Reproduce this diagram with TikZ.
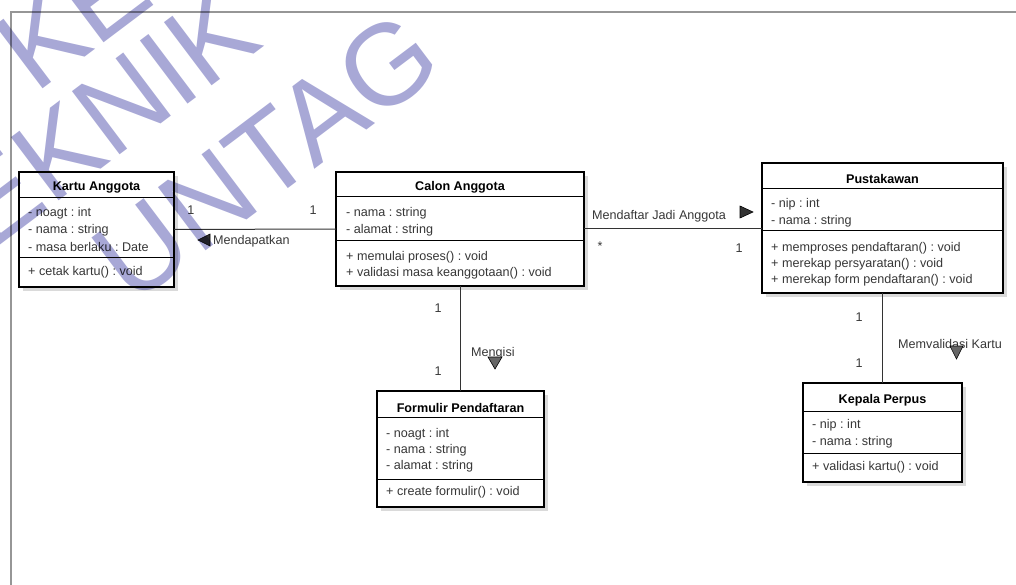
\documentclass[tikz,border=0pt]{standalone}
\usepackage{fontspec}
\setmainfont{Liberation Sans}
\usetikzlibrary{calc}
\definecolor{wmcol}{RGB}{168,168,214}
\definecolor{txt}{RGB}{55,55,55}
\definecolor{shadowcol}{RGB}{218,218,218}
\definecolor{framecol}{RGB}{150,150,150}
\frenchspacing
\begin{document}
\begin{tikzpicture}[x=1pt,y=-1pt,
  box/.style={draw=black, line width=1.6pt, fill=white, inner sep=0pt, outer sep=0pt, anchor=north west},
  sep/.style={draw=black, line width=1pt},
  title/.style={font=\fontsize{12.6}{14}\selectfont\bfseries, text=black, inner sep=0pt, yshift=-1.5pt},
  attr/.style={font=\fontsize{12.6}{14}\selectfont, text=txt, anchor=west, inner sep=0pt, yshift=-1.5pt},
  lbl/.style={font=\fontsize{12.6}{14}\selectfont, text=txt, inner sep=0pt},
  dlbl/.style={lbl, anchor=west, yshift=-1.5pt},
  assoc/.style={draw=black!80, line width=1pt},
  tri/.style={fill=black!80, draw=black, line width=0.6pt, line join=miter},
  shadowbox/.style={fill=shadowcol},
  wm/.style={font=\fontsize{115}{120}\selectfont, text=wmcol, inner sep=0pt, anchor=base west, rotate=37}
]
\useasboundingbox (0,0) rectangle (1016,585);

% frame
\coordinate (fb) at (11,585);
\coordinate (fc) at (11,12);
\coordinate (fr) at (1016,12);
\draw[framecol, line width=1.8pt] (fb) -- (fc) -- (fr);

% ---------- boxes ----------
\fill[shadowbox] (23,176) rectangle (178,291);
\fill[shadowbox] (340,176) rectangle (588,290);
\fill[shadowbox] (766,167) rectangle (1007,297);
\fill[shadowbox] (381,395) rectangle (548,511);
\fill[shadowbox] (807,387) rectangle (966,486);

\node[box, minimum width=155pt, minimum height=115pt] (kartu) at (19,172) {};
\node[box, minimum width=248pt, minimum height=114pt] (calon) at (336,172) {};
\node[box, minimum width=241pt, minimum height=130pt] (pust) at (762,163) {};
\node[box, minimum width=167pt, minimum height=116pt] (form) at (377,391) {};
\node[box, minimum width=159pt, minimum height=99pt] (kepala) at (803,383) {};

% separators
\draw[sep] ($(kartu.north west)+(0,26)$) -- ($(kartu.north east)+(0,26)$);
\draw[sep] ($(kartu.north west)+(0,85)$) -- ($(kartu.north east)+(0,85)$);
\draw[sep] ($(calon.north west)+(0,25)$) -- ($(calon.north east)+(0,25)$);
\draw[sep] ($(calon.north west)+(0,68)$) -- ($(calon.north east)+(0,68)$);
\draw[sep] ($(pust.north west)+(0,26)$) -- ($(pust.north east)+(0,26)$);
\draw[sep] ($(pust.north west)+(0,68)$) -- ($(pust.north east)+(0,68)$);
\draw[sep] ($(form.north west)+(0,26)$) -- ($(form.north east)+(0,26)$);
\draw[sep] ($(form.north west)+(0,88)$) -- ($(form.north east)+(0,88)$);
\draw[sep] ($(kepala.north west)+(0,28)$) -- ($(kepala.north east)+(0,28)$);
\draw[sep] ($(kepala.north west)+(0,70)$) -- ($(kepala.north east)+(0,70)$);

% Kartu Anggota
\node[title] (kartuT) at (96.5,186) {Kartu Anggota};
\node[attr] (k1) at (28,212) {- noagt : int};
\node[attr] (k2) at (28,229) {- nama : string};
\node[attr] (k3) at (28,245) {- masa berlaku : Date};
\node[attr] (k4) at (28,271) {+ cetak kartu() : void};

% Calon Anggota
\node[title] (calonT) at (460,186) {Calon Anggota};
\node[attr] (c1) at (346,212) {- nama : string};
\node[attr] (c2) at (346,229) {- alamat : string};
\node[attr] (c3) at (346,256) {+ memulai proses() : void};
\node[attr] (c4) at (346,272) {+ validasi masa keanggotaan() : void};

% Pustakawan
\node[title] (pustT) at (882.5,177) {Pustakawan};
\node[attr] (p1) at (771,203) {- nip : int};
\node[attr] (p2) at (771,220) {- nama : string};
\node[attr] (p3) at (771,247) {+ memproses pendaftaran() : void};
\node[attr] (p4) at (771,263) {+ merekap persyaratan() : void};
\node[attr] (p5) at (771,279) {+ merekap form pendaftaran() : void};

% Formulir Pendaftaran
\node[title] (formT) at (460.5,406) {Formulir Pendaftaran};
\node[attr] (f1) at (386,433) {- noagt : int};
\node[attr] (f2) at (386,449) {- nama : string};
\node[attr] (f3) at (386,465) {- alamat : string};
\node[attr] (f4) at (386,491) {+ create formulir() : void};

% Kepala Perpus
\node[title] (kepalaT) at (882.5,399) {Kepala Perpus};
\node[attr] (e1) at (812,424) {- nip : int};
\node[attr] (e2) at (812,441) {- nama : string};
\node[attr] (e3) at (812,466) {+ validasi kartu() : void};

% ---------- connectors ----------
\draw[assoc] (kartu.east) -- (calon.west);
\draw[assoc] (calon.east) -- (calon.east -| pust.west);
\draw[assoc] (calon.south) -- (calon.south |- form.north);
\draw[assoc] (pust.south) -- (kepala.north);

% Kartu - Calon
\node[lbl] (m1) at (191,210) {1};
\node[lbl] (m2) at (313,210) {1};
\node[dlbl] (mendapat) at (213,240) {Mendapatkan};
\fill[tri] (198,240) -- (210,234) -- (210,246) -- cycle;

% Calon - Pustakawan
\node[dlbl] (mendaftar) at (592,215) {Mendaftar Jadi Anggota};
\fill[tri] (753,212) -- (740,206) -- (740,218) -- cycle;
\node[lbl] (m3) at (600,246) {*};
\node[lbl] (m4) at (739,248) {1};

% Calon - Formulir
\node[lbl] (m5) at (438,308) {1};
\node[lbl] (m6) at (438,371) {1};
\node[dlbl] (mengisi) at (471,352) {Mengisi};
\fill[tri, fill=black!60] (488,357) -- (502,357) -- (495,369) -- cycle;

% Pustakawan - Kepala
\node[lbl] (m7) at (859,317) {1};
\node[lbl] (m8) at (859,363) {1};
\node[dlbl] (memval) at (898,342) {Memvalidasi Kartu};
\fill[tri, fill=black!60] (950,346) -- (963,346) -- (956.5,359) -- cycle;

% ---------- watermark ----------
\begin{scope}[blend mode=multiply]
\node[wm] (wm1) at (35,95) {KE};
\node[wm] (wm2) at (-66,295) {TEKNIK};
\node[wm] (wm3) at (132,307) {UNTAG};
\end{scope}
\end{tikzpicture}
\end{document}
